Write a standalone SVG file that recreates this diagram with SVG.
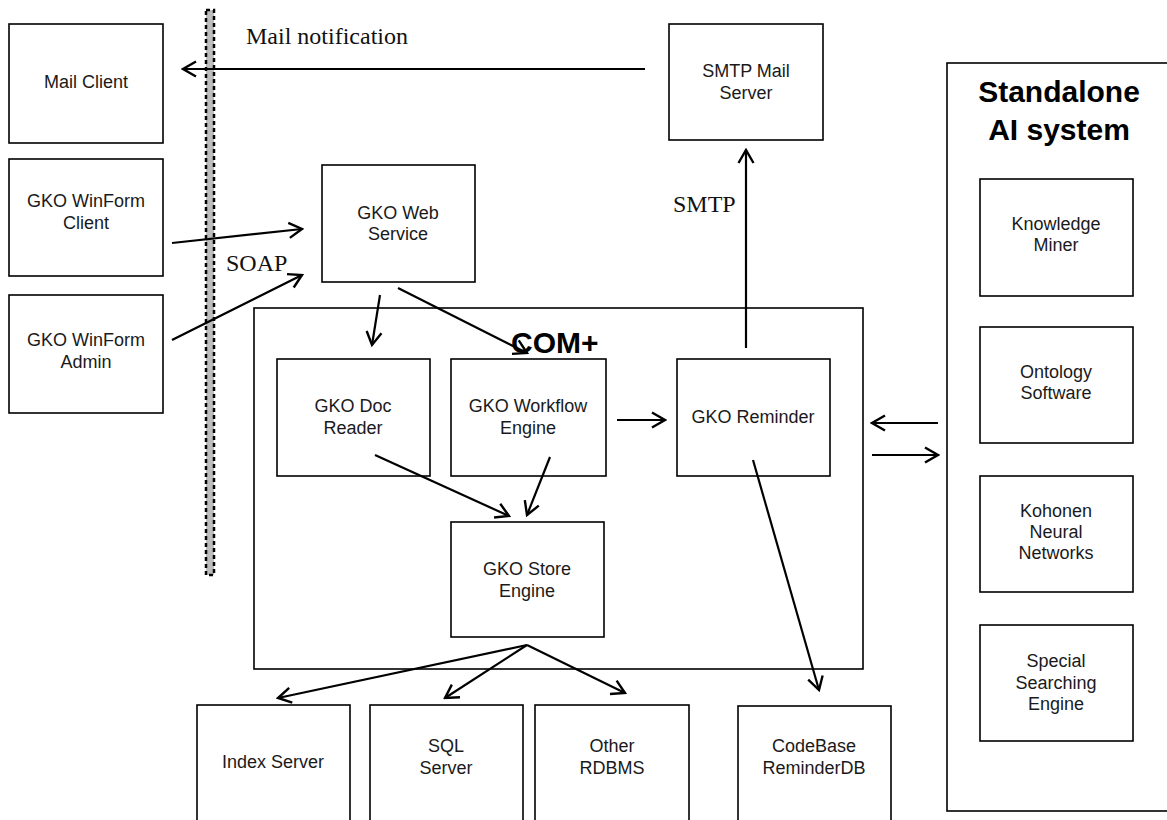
<svg xmlns="http://www.w3.org/2000/svg" width="1167" height="820" viewBox="0 0 1167 820">
<style>
.box{fill:#fff;stroke:#000;stroke-width:1.6}
.t{font-family:"Liberation Sans",Arial,sans-serif;font-size:18px;fill:#1a1a1a;text-anchor:middle}
.b{font-family:"Liberation Sans",Arial,sans-serif;font-weight:bold;font-size:30px;fill:#000}
.s{font-family:"Liberation Serif","Times New Roman",serif;font-size:24px;fill:#111}
.c{fill:none;stroke:#000;stroke-width:2.2;marker-end:url(#ah)}
</style>
<defs>
<marker id="ah" markerUnits="userSpaceOnUse" markerWidth="18" markerHeight="18" viewBox="0 0 18 18" refX="16" refY="9" orient="auto">
<path d="M3,1.5 L16,9 L3,16.5" fill="none" stroke="#000" stroke-width="2.4"/>
</marker>
</defs>
<rect width="1167" height="820" fill="#fff"/>
<g id="firewall">
<rect x="206" y="10" width="8" height="565" fill="#bdbdbd" stroke="#000" stroke-width="2.5" stroke-dasharray="4,3"/>
</g>
<g id="standalone">
<rect class="box" x="947" y="63" width="225" height="748"/>
<text class="b" x="1059" y="102" text-anchor="middle">Standalone</text>
<text class="b" x="1059" y="140" text-anchor="middle">AI system</text>
</g>
<g id="com">
<rect class="box" x="254" y="308" width="609" height="361"/>
<text class="b" x="511" y="353">COM+</text>
</g>
<g id="mailclient"><rect class="box" x="9" y="24" width="154" height="119"/><text class="t" x="86" y="88">Mail Client</text></g>
<g id="winformclient"><rect class="box" x="9" y="159" width="154" height="117"/><text class="t" x="86" y="207">GKO WinForm</text><text class="t" x="86" y="229">Client</text></g>
<g id="winformadmin"><rect class="box" x="9" y="295" width="154" height="118"/><text class="t" x="86" y="346">GKO WinForm</text><text class="t" x="86" y="368">Admin</text></g>
<g id="webservice"><rect class="box" x="322" y="165" width="153" height="117"/><text class="t" x="398" y="219">GKO Web</text><text class="t" x="398" y="240">Service</text></g>
<g id="smtpserver"><rect class="box" x="669" y="24" width="154" height="116"/><text class="t" x="746" y="77">SMTP Mail</text><text class="t" x="746" y="99">Server</text></g>
<g id="docreader"><rect class="box" x="277" y="359" width="153" height="117"/><text class="t" x="353" y="412">GKO Doc</text><text class="t" x="353" y="434">Reader</text></g>
<g id="workflow"><rect class="box" x="451" y="359" width="155" height="117"/><text class="t" x="528" y="412">GKO Workflow</text><text class="t" x="528" y="434">Engine</text></g>
<g id="reminder"><rect class="box" x="677" y="359" width="153" height="117"/><text class="t" x="753" y="423">GKO Reminder</text></g>
<g id="store"><rect class="box" x="451" y="522" width="153" height="115"/><text class="t" x="527" y="575">GKO Store</text><text class="t" x="527" y="597">Engine</text></g>
<g id="indexserver"><rect class="box" x="197" y="705" width="153" height="125"/><text class="t" x="273" y="768">Index Server</text></g>
<g id="sqlserver"><rect class="box" x="370" y="705" width="153" height="125"/><text class="t" x="446" y="752">SQL</text><text class="t" x="446" y="774">Server</text></g>
<g id="otherrdbms"><rect class="box" x="535" y="705" width="154" height="125"/><text class="t" x="612" y="752">Other</text><text class="t" x="612" y="774">RDBMS</text></g>
<g id="codebase"><rect class="box" x="738" y="706" width="153" height="124"/><text class="t" x="814" y="752">CodeBase</text><text class="t" x="814" y="774">ReminderDB</text></g>
<g id="knowledgeminer"><rect class="box" x="980" y="179" width="153" height="117"/><text class="t" x="1056" y="230">Knowledge</text><text class="t" x="1056" y="251">Miner</text></g>
<g id="ontology"><rect class="box" x="980" y="327" width="153" height="116"/><text class="t" x="1056" y="378">Ontology</text><text class="t" x="1056" y="399">Software</text></g>
<g id="kohonen"><rect class="box" x="980" y="476" width="153" height="116"/><text class="t" x="1056" y="517">Kohonen</text><text class="t" x="1056" y="538">Neural</text><text class="t" x="1056" y="559">Networks</text></g>
<g id="special"><rect class="box" x="980" y="625" width="153" height="116"/><text class="t" x="1056" y="667">Special</text><text class="t" x="1056" y="689">Searching</text><text class="t" x="1056" y="710">Engine</text></g>
<g id="labels">
<text class="s" x="246" y="44">Mail notification</text>
<text class="s" x="226" y="271">SOAP</text>
<text class="s" x="673" y="212">SMTP</text>
</g>
<g id="connectors">
<line class="c" x1="645" y1="69" x2="183" y2="69"/>
<line class="c" x1="172" y1="243" x2="302" y2="229"/>
<line class="c" x1="172" y1="340" x2="302" y2="275"/>
<line class="c" x1="380" y1="295" x2="372" y2="345"/>
<line class="c" x1="398" y1="288" x2="527" y2="353"/>
<line class="c" x1="617" y1="420" x2="665" y2="420"/>
<line class="c" x1="746" y1="348" x2="746" y2="150"/>
<line class="c" x1="375" y1="455" x2="509" y2="516"/>
<line class="c" x1="550" y1="457" x2="527" y2="515"/>
<line class="c" x1="527" y1="645" x2="278" y2="698"/>
<line class="c" x1="527" y1="645" x2="445" y2="698"/>
<line class="c" x1="527" y1="645" x2="625" y2="693"/>
<line class="c" x1="753" y1="460" x2="819" y2="690"/>
<line class="c" x1="938" y1="423" x2="872" y2="423"/>
<line class="c" x1="872" y1="455" x2="938" y2="455"/>
</g>
</svg>
